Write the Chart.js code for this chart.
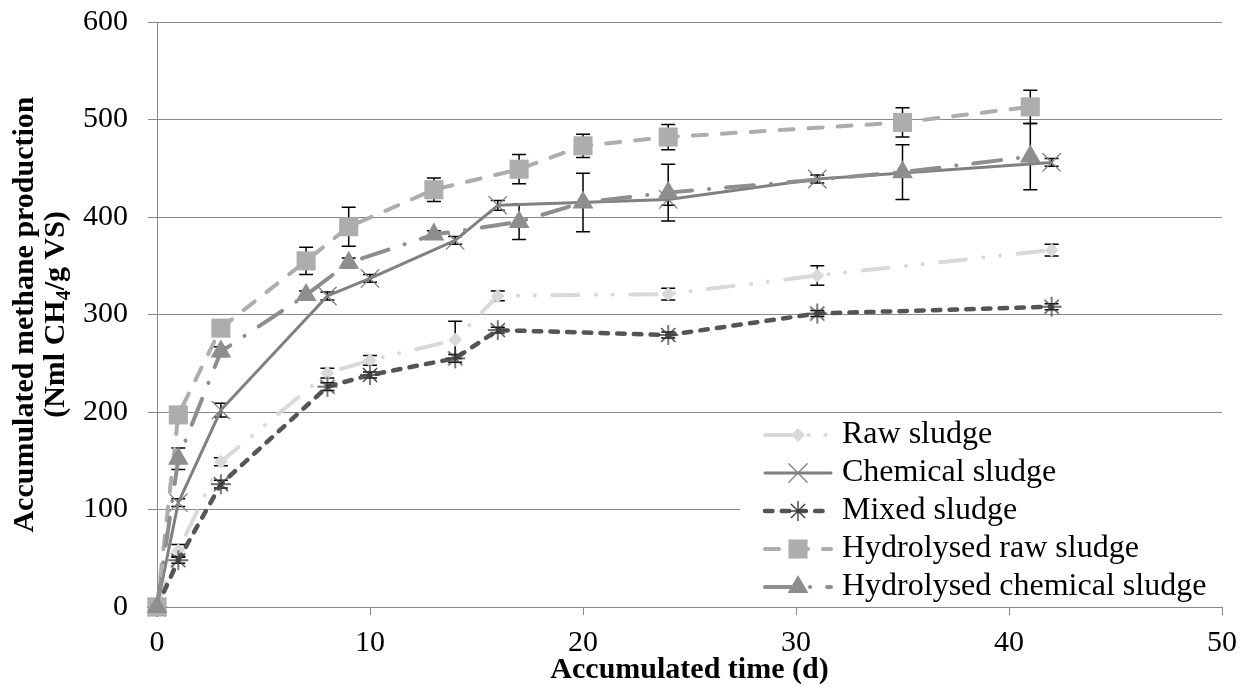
<!DOCTYPE html>
<html>
<head>
<meta charset="utf-8">
<title>Accumulated methane production</title>
<script src="https://cdn.jsdelivr.net/npm/chart.js@4.4.1/dist/chart.umd.min.js"></script>
<style>
  html, body { margin: 0; padding: 0; background: #fff; }
  canvas { display: block; }
</style>
</head>
<body>
<canvas id="methaneChart" width="1256" height="691"></canvas>
<script>
// sampling days (d)
const daysUntreated = [0, 1, 3, 8, 10, 14, 16, 24, 31, 42];
const daysHydrolysed = [0, 1, 3, 7, 9, 13, 17, 20, 24, 35, 41];

// accumulated methane (Nml CH4/g VS) and standard deviations
const rawSludge = [0, 58, 149, 240, 253, 274, 319, 321, 340, 366];
const rawSludgeErr = [0, 6, 4, 5, 5, 19, 5, 6, 10, 6];
const chemicalSludge = [0, 107, 202, 319, 337, 376, 412, 418, 439, 456];
const chemicalSludgeErr = [0, 4, 7, 4, 4, 4, 5, 6, 4, 4];
const mixedSludge = [0, 48, 126, 226, 238, 255, 284, 279, 301, 308];
const mixedSludgeErr = [0, 3, 4, 4, 3, 4, 3, 3, 3, 3];
const hydRawSludge = [0, 197, 286, 355, 390, 428, 449, 473, 482, 497, 513];
const hydRawSludgeErr = [0, 6, 5, 14, 20, 12, 15, 12, 13, 15, 17];
const hydChemSludge = [0, 152, 262, 320, 353, 382, 395, 415, 425, 446, 462];
const hydChemSludgeErr = [0, 11, 5, 4, 5, 4, 18, 30, 29, 28, 34];

const seriesLabels = ['Raw sludge', 'Chemical sludge', 'Mixed sludge',
                      'Hydrolysed raw sludge', 'Hydrolysed chemical sludge'];

const xMax = 50, xStep = 10;
const yMax = 600, yStep = 100;

const FONT = "'Liberation Serif', 'Times New Roman', serif";
const GRID = '#898989';

// thin eight-ray asterisk used for the mixed sludge marker
function makeAsterisk(size, color, lw) {
    const c = document.createElement('canvas');
    c.width = c.height = size;
    const g = c.getContext('2d');
    g.strokeStyle = color;
    g.lineWidth = lw;
    const m = size / 2, r = size / 2 - 1;
    g.beginPath();
    for (let k = 0; k < 4; k++) {
        const a = k * Math.PI / 4;
        g.moveTo(m - r * Math.cos(a), m - r * Math.sin(a));
        g.lineTo(m + r * Math.cos(a), m + r * Math.sin(a));
    }
    g.stroke();
    return c;
}
const asterisk = makeAsterisk(22, '#404040', 1.4);

function points(xs, ys) {
    return xs.map((x, i) => ({ x: x, y: ys[i] }));
}

const seriesStyles = [
    { color: '#d9d9d9', dash: [26, 17.5, 0.1, 16.7, 0.1, 17.5], width: 4,
      marker: 'rectRot', radius: 7, fill: '#d9d9d9' },
    { color: '#808080', dash: [], width: 3,
      marker: 'crossRot', radius: 13, fill: '#808080', markerLine: 1.3 },
    { color: '#555555', dash: [7.5, 9.2], width: 4.5,
      marker: asterisk, radius: 11, fill: '#404040' },
    { color: '#adadad', dash: [14, 15], width: 4,
      marker: 'rect', radius: 13.5, fill: '#adadad' },
    { color: '#8e8e8e', dash: [28, 17, 0.1, 17], width: 4,
      marker: 'triangle', radius: 12, fill: '#8e8e8e' }
];

const seriesData = [
    points(daysUntreated, rawSludge),
    points(daysUntreated, chemicalSludge),
    points(daysUntreated, mixedSludge),
    points(daysHydrolysed, hydRawSludge),
    points(daysHydrolysed, hydChemSludge)
];
const seriesErrors = [rawSludgeErr, chemicalSludgeErr, mixedSludgeErr, hydRawSludgeErr, hydChemSludgeErr];

const datasets = seriesLabels.map((label, i) => {
    const s = seriesStyles[i];
    return {
        label: label,
        data: seriesData[i],
        errors: seriesErrors[i],
        borderColor: s.color,
        borderWidth: s.width,
        borderDash: s.dash,
        borderCapStyle: 'round',
        borderJoinStyle: 'round',
        tension: 0,
        fill: false,
        showLine: true,
        pointStyle: s.marker,
        pointRadius: s.radius,
        pointHoverRadius: s.radius,
        pointBackgroundColor: s.fill,
        pointBorderColor: s.fill,
        pointBorderWidth: s.markerLine || 0,
        clip: false,
        order: seriesLabels.length - i
    };
});

// vertical error bars with caps, under the markers
const errorBars = {
    id: 'errorBars',
    beforeDatasetsDraw(chart) {
        const { ctx, scales: { x, y } } = chart;
        ctx.save();
        ctx.strokeStyle = '#000';
        ctx.lineWidth = 1.5;
        chart.data.datasets.forEach(ds => {
            ds.data.forEach((p, i) => {
                const e = ds.errors[i];
                if (!e) return;
                const px = x.getPixelForValue(p.x);
                const top = y.getPixelForValue(p.y + e);
                const bot = y.getPixelForValue(p.y - e);
                ctx.beginPath();
                ctx.moveTo(px, top);
                ctx.lineTo(px, bot);
                ctx.moveTo(px - 7, top);
                ctx.lineTo(px + 7, top);
                ctx.moveTo(px - 7, bot);
                ctx.lineTo(px + 7, bot);
                ctx.stroke();
            });
        });
        ctx.restore();
    }
};

function drawMarker(ctx, s, cx, cy) {
    const r = s.radius;
    if (typeof s.marker !== 'string') {
        ctx.drawImage(s.marker, cx - s.marker.width / 2, cy - s.marker.height / 2);
        return;
    }
    ctx.fillStyle = s.fill;
    ctx.strokeStyle = s.fill;
    ctx.setLineDash([]);
    ctx.beginPath();
    if (s.marker === 'rectRot') {
        ctx.moveTo(cx, cy - r); ctx.lineTo(cx + r, cy);
        ctx.lineTo(cx, cy + r); ctx.lineTo(cx - r, cy);
        ctx.closePath(); ctx.fill();
    } else if (s.marker === 'crossRot') {
        const d = r * Math.SQRT1_2;
        ctx.lineWidth = s.markerLine;
        ctx.moveTo(cx - d, cy - d); ctx.lineTo(cx + d, cy + d);
        ctx.moveTo(cx + d, cy - d); ctx.lineTo(cx - d, cy + d);
        ctx.stroke();
    } else if (s.marker === 'rect') {
        const d = r * Math.SQRT1_2;
        ctx.rect(cx - d, cy - d, 2 * d, 2 * d); ctx.fill();
    } else if (s.marker === 'triangle') {
        ctx.moveTo(cx, cy - r);
        ctx.lineTo(cx + r * Math.sin(2 * Math.PI / 3), cy + r / 2);
        ctx.lineTo(cx - r * Math.sin(2 * Math.PI / 3), cy + r / 2);
        ctx.closePath(); ctx.fill();
    }
}

// boxed legend with line samples, plus both axis titles
const decorations = {
    id: 'decorations',
    afterDraw(chart) {
        const ctx = chart.ctx;
        const area = chart.chartArea;
        ctx.save();

        // legend
        ctx.fillStyle = '#fff';
        ctx.fillRect(740, 416, area.right - 740, 188);
        const rows = [435, 473, 511, 549, 587];
        seriesLabels.forEach((label, i) => {
            const s = seriesStyles[i];
            const yy = rows[i];
            ctx.strokeStyle = s.color;
            ctx.lineWidth = s.width;
            ctx.lineCap = 'round';
            ctx.setLineDash(s.dash);
            ctx.beginPath();
            ctx.moveTo(765, yy);
            ctx.lineTo(831, yy);
            ctx.stroke();
            drawMarker(ctx, s, 798, yy);
            ctx.fillStyle = '#000';
            ctx.font = '32px ' + FONT;
            ctx.textAlign = 'left';
            ctx.textBaseline = 'middle';
            ctx.fillText(label, 842, yy);
        });

        // x axis title
        ctx.fillStyle = '#000';
        ctx.font = 'bold 30px ' + FONT;
        ctx.textAlign = 'center';
        ctx.textBaseline = 'alphabetic';
        ctx.fillText('Accumulated time (d)', (area.left + area.right) / 2, 678);

        // y axis title, two lines, subscript 4
        const cy = (area.top + area.bottom) / 2;
        ctx.save();
        ctx.translate(33, cy);
        ctx.rotate(-Math.PI / 2);
        ctx.fillText('Accumulated methane production', 0, 0);
        ctx.restore();

        ctx.save();
        ctx.translate(64, cy);
        ctx.rotate(-Math.PI / 2);
        const partA = '(Nml CH', partB = '4', partC = '/g VS)';
        ctx.font = 'bold 30px ' + FONT;
        const wA = ctx.measureText(partA).width;
        const wC = ctx.measureText(partC).width;
        ctx.font = 'bold 20px ' + FONT;
        const wB = ctx.measureText(partB).width;
        let x0 = -(wA + wB + wC) / 2;
        ctx.textAlign = 'left';
        ctx.font = 'bold 30px ' + FONT;
        ctx.fillText(partA, x0, 0);
        ctx.font = 'bold 20px ' + FONT;
        ctx.fillText(partB, x0 + wA, 6);
        ctx.font = 'bold 30px ' + FONT;
        ctx.fillText(partC, x0 + wA + wB, 0);
        ctx.restore();

        ctx.restore();
    }
};

new Chart(document.getElementById('methaneChart'), {
    type: 'line',
    data: { datasets: datasets },
    options: {
        responsive: false,
        devicePixelRatio: 1,
        animation: false,
        events: [],
        layout: { padding: { left: 0, right: 34, top: 22, bottom: 0 } },
        plugins: {
            legend: { display: false },
            tooltip: { enabled: false }
        },
        scales: {
            x: {
                type: 'linear',
                min: 0,
                max: xMax,
                afterFit: scale => { scale.height = 84; },
                ticks: {
                    stepSize: xStep,
                    color: '#000',
                    font: { family: FONT, size: 30 },
                    padding: 10,
                    maxRotation: 0
                },
                grid: { drawOnChartArea: false, drawTicks: true, tickLength: 8, color: GRID },
                border: { color: GRID, width: 1 }
            },
            y: {
                type: 'linear',
                min: 0,
                max: yMax,
                afterFit: scale => {
                    // fixed axis width; the label gap should not push the plot top down
                    scale.width = 157;
                    scale.paddingTop = 0;
                    scale.paddingBottom = 0;
                },
                ticks: {
                    stepSize: yStep,
                    color: '#000',
                    font: { family: FONT, size: 30 },
                    padding: 20
                },
                grid: { drawOnChartArea: true, drawTicks: true, tickLength: 9, color: GRID },
                border: { color: GRID, width: 1 }
            }
        }
    },
    plugins: [errorBars, decorations]
});
</script>
</body>
</html>
